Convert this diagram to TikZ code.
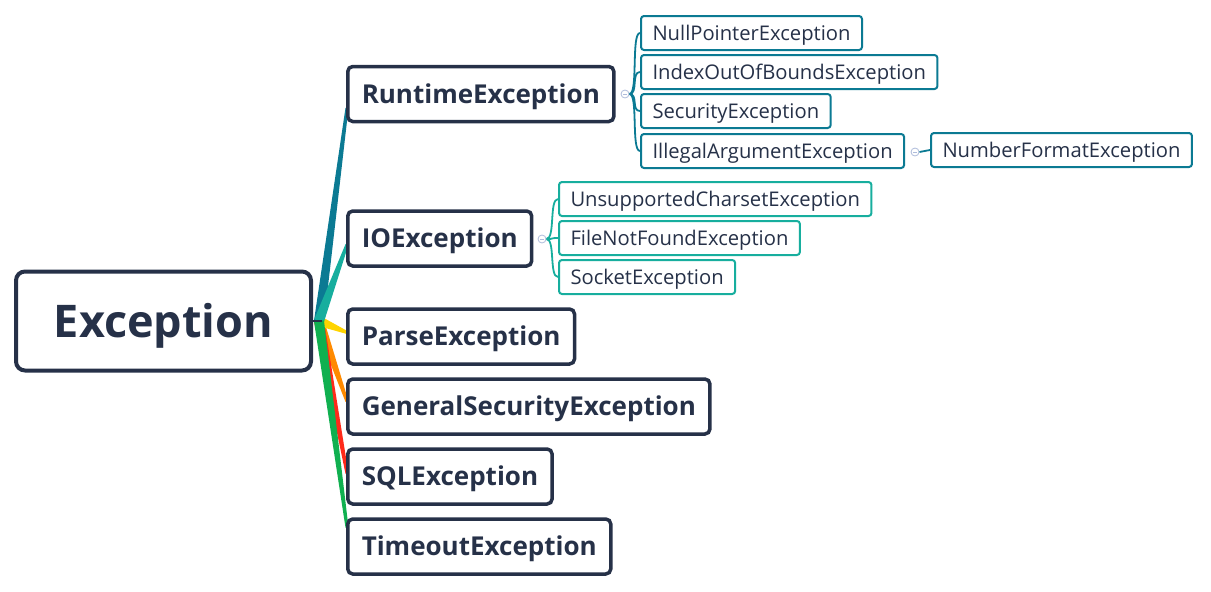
\documentclass[tikz,border=0pt]{standalone}
\usepackage{fontspec}
\setmainfont{Open Sans}
\usetikzlibrary{calc}
\definecolor{navy}{HTML}{263148}
\definecolor{rtc}{HTML}{0B7A93}
\definecolor{ioc}{HTML}{17AE9E}
\definecolor{pec}{HTML}{FFD400}
\definecolor{gsc}{HTML}{FF8A00}
\definecolor{sqc}{HTML}{FF2A1A}
\definecolor{toc}{HTML}{10B050}
\definecolor{dotc}{HTML}{AFBCDB}
\pgfdeclarelayer{bg}
\pgfsetlayers{bg,main}
\newcommand\branch[3]{\fill[#1] ($(#2)!5pt!90:(#3)$) -- ($(#2)!5pt!-90:(#3)$) -- ($(#3)!1.5pt!90:(#2)$) -- ($(#3)!1.5pt!-90:(#2)$) -- cycle;}
\tikzset{
  rootbox/.style={draw=navy, line width=4pt, rounded corners=9pt, fill=white, text=navy,
    font=\bfseries\fontsize{45}{50}\selectfont, minimum width=295pt, minimum height=99pt, inner sep=0pt,
    text height=43pt, text depth=11pt},
  midbox/.style={draw=navy, line width=3.5pt, rounded corners=5pt, fill=white, text=navy,
    font=\bfseries\fontsize{26}{30}\selectfont, minimum height=55pt, inner xsep=14pt, inner ysep=0pt, anchor=west,
    text height=25pt, text depth=6.3pt},
  leafbox/.style={draw=#1, line width=2pt, rounded corners=3pt, fill=white, text=navy,
    font=\fontsize{20.2}{24}\selectfont, minimum height=34pt, inner xsep=11.5pt, inner ysep=0pt, anchor=west,
    text height=19.4pt, text depth=4.9pt},
  dot/.style={circle, draw=dotc, line width=0.8pt, fill=white, minimum size=8pt, inner sep=0pt,
    path picture={\draw[dotc, line width=0.8pt] ($(path picture bounding box.west)+(2,0)$) -- ($(path picture bounding box.east)+(-2,0)$);}},
  leafline/.style={draw=#1, line width=1.8pt}
}
\begin{document}
\begin{tikzpicture}[x=1pt,y=-1pt]
\useasboundingbox (0,0) rectangle (1211,592);
% root
\node[rootbox] (root) at (163.5,321) {Exception};
% middle level
\node[midbox] (rt) at (346,94) {RuntimeException};
\node[midbox] (io) at (346,238.5) {IOException};
\node[midbox] (pe) at (346,336.5) {ParseException};
\node[midbox] (gs) at (346,406.5) {GeneralSecurityException};
\node[midbox] (sq) at (346,476.5) {SQLException};
\node[midbox] (to) at (346,546.5) {TimeoutException};
% runtime leaves
\node[leafbox=rtc] (l1) at (640,33) {NullPointerException};
\node[leafbox=rtc] (l2) at (640,72) {IndexOutOfBoundsException};
\node[leafbox=rtc] (l3) at (640,111) {SecurityException};
\node[leafbox=rtc] (l4) at (640,151) {IllegalArgumentException};
\node[leafbox=rtc] (l5) at (930,150) {NumberFormatException};
% io leaves
\node[leafbox=ioc] (i1) at (558,199) {UnsupportedCharsetException};
\node[leafbox=ioc] (i2) at (558,238) {FileNotFoundException};
\node[leafbox=ioc] (i3) at (558,277) {SocketException};
% collapse dots
\node[dot] (drt) at (625,94) {};
\node[dot] (dio) at (542,239) {};
\node[dot] (dia) at (915,152) {};
% hub
\coordinate (hub) at ($(root.east)+(6,0)$);
\coordinate (ert) at ($(rt.west)+(1,14)$);
\coordinate (eio) at ($(io.west)+(1,6)$);
\coordinate (epe) at ($(pe.west)+(1,-4)$);
\coordinate (egs) at ($(gs.west)+(1,-5)$);
\coordinate (esq) at ($(sq.west)+(1,-3)$);
\coordinate (eto) at ($(to.west)+(1,-19)$);
\begin{pgfonlayer}{bg}
\branch{gsc}{hub}{egs}
\branch{sqc}{hub}{esq}
\branch{pec}{hub}{epe}
\branch{rtc}{hub}{ert}
\branch{ioc}{hub}{eio}
\branch{toc}{hub}{eto}
\draw[navy, line width=2pt] (root.east) -- ($(hub)+(3,0)$);
% runtime leaf lines
\foreach \l in {l1,l2,l3,l4}
  \draw[leafline=rtc] (drt.east) .. controls ($(drt.east)+(9,0)$) and ($(\l.west)+(-9,0)$) .. (\l.west);
\foreach \l in {i1,i2,i3}
  \draw[leafline=ioc] (dio.east) .. controls ($(dio.east)+(9,0)$) and ($(\l.west)+(-9,0)$) .. (\l.west);
\draw[leafline=rtc] (dia.east) -- (l5.west);
\end{pgfonlayer}
\end{tikzpicture}
\end{document}
